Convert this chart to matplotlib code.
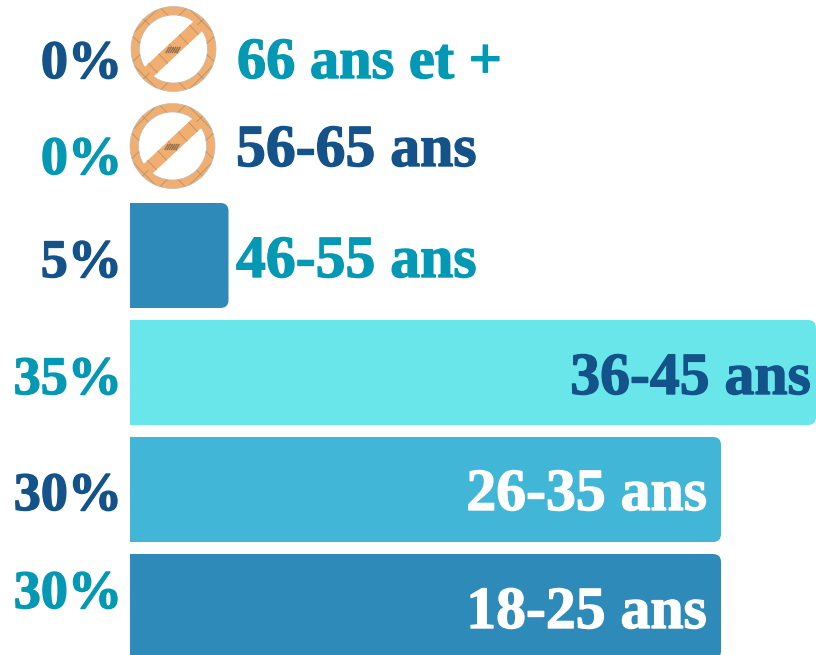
import matplotlib
matplotlib.use("Agg")
import matplotlib.pyplot as plt
import matplotlib.patheffects as pe
from matplotlib.patches import Wedge, Polygon, Circle, FancyBboxPatch
import numpy as np

# Data
categories = ["18-25 ans", "26-35 ans", "36-45 ans", "46-55 ans", "56-65 ans", "66 ans et +"]
values = [30, 30, 35, 5, 0, 0]
pct_labels = ["30%", "30%", "35%", "5%", "0%", "0%"]

# Style / layout
W, H = 816, 655
NAVY, TEAL = "#14528a", "#0398b4"
bar_colors = ["#2d8ab9", "#42b6d6", "#69e6ea", "#2d8ab9", None, None]
cat_colors = ["white", "white", NAVY, TEAL, NAVY, TEAL]
pct_colors = [TEAL, NAVY, TEAL, NAVY, TEAL, NAVY]
bar_tops = [554, 437, 320, 203]
bar_h = 105
pct_base = [608, 510, 394, 277, 174, 78]
cat_base = [628, 510, 394, 277, 166, 78]
cat_x = [707, 707, 811, 236, 236, 237]
cat_ha = ["right", "right", "right", "left", "left", "left"]
cat_size = [43, 43, 43, 43, 43, 42]
icon_c = [None, None, None, None, (172.5, 146), (173.5, 49)]
px_per_pct = 19.7
x0 = 130
ORANGE = "#f0ae70"
FONT = "Liberation Serif"

fig = plt.figure(figsize=(W / 100, H / 100), dpi=100, facecolor="white")

# Pixel layer for text and icons
px = fig.add_axes([0, 0, 1, 1], zorder=2)
px.set_xlim(0, W); px.set_ylim(H, 0); px.axis("off"); px.patch.set_alpha(0)

# Value axis for bars
ax = fig.add_axes([0, 0, 1, 1], zorder=1)
xmax = (W - x0) / px_per_pct
ax.set_xlim(-x0 / px_per_pct, xmax)
ax.set_ylim(H, 0)
ax.axis("off")

for i, v in enumerate(values):
    if v > 0:
        top = bar_tops[i]
        rects = ax.barh(top + bar_h / 2, v, height=bar_h, left=0, color=bar_colors[i], linewidth=0)
        right = min(v, xmax)
        clip = FancyBboxPatch((x0 - 30, top), right * px_per_pct + 30, bar_h,
                              boxstyle="round,pad=0,rounding_size=8",
                              transform=px.transData, facecolor="none", edgecolor="none")
        px.add_patch(clip)
        rects[0].set_clip_path(clip)


def heavy(color, w):
    return [pe.withStroke(linewidth=w, foreground=color)]


for i, (cat, pct) in enumerate(zip(categories, pct_labels)):
    px.text(122, pct_base[i], pct, ha="right", va="baseline", color=pct_colors[i],
            fontsize=39, family=FONT, weight="bold", path_effects=heavy(pct_colors[i], 1.0))
    px.text(cat_x[i], cat_base[i], cat, ha=cat_ha[i], va="baseline", color=cat_colors[i],
            fontsize=cat_size[i], family=FONT, weight="bold", path_effects=heavy(cat_colors[i], 1.0))

# "Nothing" icons
LINE = "#a5835f"
for c in icon_c:
    if c is None:
        continue
    R, r = 42.5, 34
    cc = np.array(c)
    ring = Wedge(c, R, 0, 360, width=R - r, facecolor=ORANGE, edgecolor="#bdbdbd", linewidth=0.5, zorder=2)
    px.add_patch(ring)
    a = np.deg2rad(43)
    d = np.array([np.cos(a), -np.sin(a)])
    n = np.array([np.sin(a), np.cos(a)])
    hw = 6.5
    L = r + 1
    slash = Polygon([cc - d * L + n * hw, cc + d * L + n * hw, cc + d * L - n * hw, cc - d * L - n * hw],
                    closed=True, facecolor=ORANGE, edgecolor="none", zorder=2)
    px.add_patch(slash)
    # Fine diamond lattice on the ring
    for off in np.arange(-84, 85, 28):
        for s in (1, -1):
            xs = np.array([-R, R])
            line = px.plot(cc[0] + xs, cc[1] + s * xs + off, color=LINE, lw=0.5, alpha=0.8, zorder=3)[0]
            line.set_clip_path(ring)
    # Short ticks across the slash
    for t in np.arange(-28, 29, 14):
        p = cc + d * t
        tick = px.plot([p[0] - n[0] * hw, p[0] + n[0] * hw], [p[1] - n[1] * hw, p[1] + n[1] * hw],
                       color=LINE, lw=0.5, alpha=0.8, zorder=3)[0]
    # Small dark smudge at the centre
    for k in np.arange(-6, 7, 2.2):
        px.plot([c[0] + k - 1.5, c[0] + k + 1.5], [c[1] + 3.5, c[1] - 1.5],
                color="#7d6248", lw=1.0, alpha=0.8, zorder=4)

fig.savefig("out.png", dpi=100)
